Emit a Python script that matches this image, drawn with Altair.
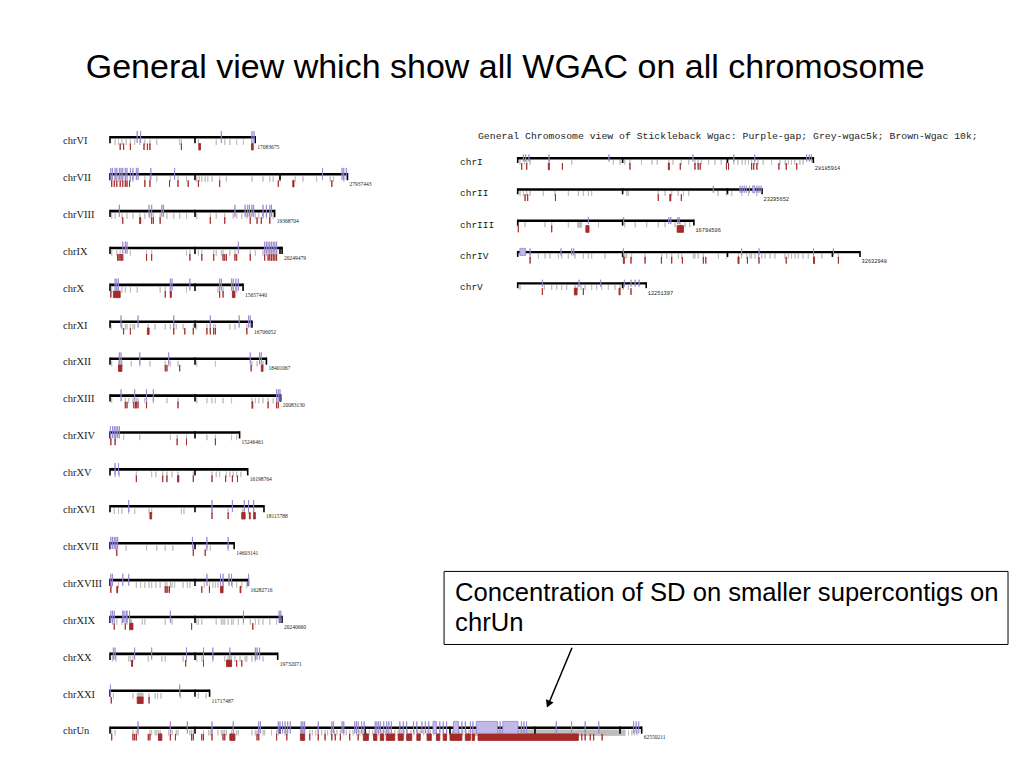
import altair as alt
import pandas as pd

# ---------------- data ----------------
LEFT_CHROMS = ["chrVI", "chrVII", "chrVIII", "chrIX", "chrX", "chrXI", "chrXII", "chrXIII",
               "chrXIV", "chrXV", "chrXVI", "chrXVII", "chrXVIII", "chrXIX", "chrXX", "chrXXI", "chrUn"]
LEFT_LENGTHS = [17083675, 27937443, 19368704, 20249479, 15657440, 16706052, 18401067, 20083130,
                15246461, 16198764, 18115788, 14603141, 16282716, 20240660, 19732071, 11717487, 62550211]
RIGHT_CHROMS = ["chrI", "chrII", "chrIII", "chrIV", "chrV"]
RIGHT_LENGTHS = [28185914, 23295652, 16798506, 32632948, 12251397]

# positions in Mb; a [start, end] pair is a block
GAPS = {
    "chrVI": [3.2, 3.6, 13.1, 16.7, 16.95],
    "chrVII": [0.1, 0.3, 0.6, 0.8, 1.1, 1.3, 1.5, 1.8, 2.0, 2.4, 2.7, 3.1, 3.3, 4.8, 7.6, 25.0, 27.3, 27.5, 27.8],
    "chrVIII": [1.1, 4.6, 4.9, 6.1, 6.3, 14.7, 15.9, 16.2, 16.4, 16.7, 16.9, 18.0, 18.4, 18.8, 19.0],
    "chrIX": [1.5, 1.8, 2.0, 15.1, 18.2, 18.4, 18.6, 18.8, 19.0, 19.2, 19.4, 19.6],
    "chrX": [0.6, 0.8, 1.0, 7.1, 7.3, 9.4, 12.9, 13.1, 14.3, 14.5, 14.8, 15.1],
    "chrXI": [1.3, 3.3, 7.5, 11.8, 15.2, 16.3, 16.5],
    "chrXII": [1.1, 1.3, 3.5, 6.9, 16.5, 17.6, 17.8],
    "chrXIII": [1.3, 2.9, 4.3, 5.1, 19.6, 19.8, 20.0],
    "chrXIV": [0.05, 0.3, 0.5, 0.7, 0.9, 1.1],
    "chrXV": [0.6, 1.0],
    "chrXVI": [2.2, 12.0, 14.4, 15.8, 16.3, 16.9],
    "chrXVII": [0.1, 0.3, 0.5, 0.7, 0.9, 9.7, 11.4, 13.9],
    "chrXVIII": [0.1, 0.3, 1.5, 2.2, 11.4, 13.0, 13.3, 14.0, 14.3, 16.3],
    "chrXIX": [0.1, 0.3, 0.5, 1.5, 1.65, 1.9, 2.0, 2.3, 7.1, 15.7, 19.9, 20.1],
    "chrXX": [0.4, 0.6, 2.9, 4.9, 9.0, 11.0, 12.1, 14.1, 17.1, 17.3, 17.6],
    "chrXXI": [0.05, 8.2],
    "chrUn": [3.3, 7.1, 9.1, 12.0, 14.5, 17.5, 17.7, 19.8, 20.0, 20.3, 20.6, 20.9, 21.2, 22.5, 22.7, 22.9,
              24.5, 26.1, 26.3, 27.3, 27.5, 28.8, 29.0, 29.2, 29.6, 29.9, 31.2, 31.4, 31.6, 31.8, 32.2,
              32.55, 32.8, 33.1, 34.1, 34.5, 34.9, 35.7, 36.1, 36.7, 37.1, 37.5, [38.0, 38.4], 38.8, 39.2,
              39.6, [40.4, 41.0], 41.4, 41.8, 42.4, 42.7, [43.1, 45.6], 45.9, [46.2, 48.0], 48.4, 48.7,
              49.0, 52.5, 54.3, 55.9, 57.5, 61.6, 61.9, 62.2],
    "chrI": [0.54, 0.76, 1.08, 2.99, 8.7, 16.7, 20.6, 22.6, 27.55, 27.8, 28.0],
    "chrII": [18.65, 21.2, 21.4, 21.6, 21.8, 22.1, [22.4, 22.6], 22.8, 23.0, 23.2],
    "chrIII": [6.74, 10.1, 14.4, 14.6, 15.25, 15.4],
    "chrIV": [[0.2, 0.76], 1.18, 4.13, 5.15, 5.34, 10.07, 21.35, 23.0, 28.2, 30.1],
    "chrV": [2.35, 5.85, 7.9, 10.17, 10.8, 11.2, 11.57],
}

WGAC5K = {
    "chrVI": [0.6, 1.0, 1.4, 1.9, 2.4, 2.9, 3.5, 4.1, 4.7, 5.5, 8.2, 8.4, 10.4, 12.5, 13.5, 14.1, 14.9, 15.7],
    "chrVII": [0.2, 0.6, 1.0, 1.4, 1.8, 2.4, 2.7, 4.1, 4.7, 5.5, 7.1, 8.0, 9.0, 10.2, 10.5, 10.8, 11.2, 11.5,
               12.0, 12.9, 13.7, 16.7, 18.0, 18.8, 19.2, 20.0, 21.8, 22.7, 24.3, 25.9, 26.3, 27.5],
    "chrVIII": [0.2, 0.6, 1.4, 2.0, 2.7, 3.5, 4.1, 4.7, 5.1, 5.9, 6.7, 7.5, 8.2, 9.0, 10.2, 11.8, 12.5, 13.5,
                14.5, 14.9, 15.5, 16.1, 16.5, 17.1, 17.5, 18.0, 18.4, 18.8, 19.2],
    "chrIX": [0.2, 0.8, 1.2, 2.4, 4.3, 4.9, 9.0, 9.4, 10.4, 10.8, 12.2, 12.5, 13.1, 13.3, 14.1, 14.7, 16.5,
              17.1, 18.0, 18.4, 18.8, 19.2, 19.6],
    "chrX": [0.2, 0.8, 1.4, 1.8, 2.4, 3.2, 5.9, 6.5, 7.1, 9.0, 12.7, 13.3, 14.5, 14.9],
    "chrXI": [0.1, 1.4, 1.8, 2.0, 2.4, 2.7, 2.9, 4.5, 5.3, 6.5, 7.1, 7.5, 7.8, 8.6, 9.8, 10.1, 10.2, 11.4,
              11.8, 12.2, 12.4, 14.1, 14.7, 16.1],
    "chrXII": [0.2, 1.0, 1.4, 2.5, 3.5, 4.7, 6.5, 6.9, 7.1, 8.0, 10.2, 12.4, 16.7, 17.3, 18.0],
    "chrXIII": [0.2, 1.8, 2.2, 2.7, 3.1, 3.3, 4.1, 5.1, 6.7, 8.0, 10.2, 11.4, 12.0, 12.4, 13.3, 14.3, 16.7,
                17.1, 17.5, 18.0, 18.6, 19.2, 19.6],
    "chrXIV": [0.1, 0.6, 1.6, 3.5, 7.1, 7.9, 9.0, 11.4, 12.4, 14.3, 14.9],
    "chrXV": [0.6, 1.1, 3.1, 4.9, 5.4, 6.2, 6.7, 7.3, 8.0, 9.8, 12.0, 12.5, 12.9, 13.7, 14.1, 14.5, 14.9, 15.4],
    "chrXVI": [0.5, 1.0, 1.4, 2.2, 2.9, 4.6, 4.9, 8.4, 8.7, 12.0, 13.9, 15.6, 16.3, 16.9],
    "chrXVII": [0.7, 1.9, 4.3, 5.5, 6.5, 7.4, 9.8, 11.4, 11.8, 13.9],
    "chrXVIII": [0.2, 1.0, 3.1, 3.6, 4.1, 4.6, 4.9, 5.4, 5.9, 6.5, 6.7, 7.1, 7.3, 7.6, 8.6, 9.1, 9.4, 11.1,
                 11.7, 12.1, 12.4, 12.7, 13.3, 14.4, 14.9, 15.5, 16.1],
    "chrXIX": [0.3, 0.8, 1.4, 2.0, 2.4, 2.5, 3.8, 4.1, 6.5, 7.3, 10.2, 10.4, 10.8, 12.5, 13.1, 13.3, 13.5,
               13.9, 14.3, 14.5, 15.1, 15.7, 16.5, 17.1, 17.5, 18.0, 18.8, 19.6],
    "chrXX": [0.3, 0.7, 2.2, 2.4, 2.7, 4.5, 6.1, 6.5, 8.6, 9.0, 10.2, 10.8, 11.0, 12.1, 13.5, 13.9, 14.3,
              14.7, 15.3, 15.9, 16.1, 16.7, 17.1, 18.0],
    "chrXXI": [0.4, 2.7, [3.2, 3.9], 4.6, 5.3, 5.6, 6.0, 8.3, 10.4, 11.3],
    "chrUn": [0.2, 0.6, 2.7, 3.1, 3.3, 4.7, 4.9, 5.3, 5.5, 5.7, 5.9, 6.9, 7.3, 7.8, 8.0, 9.4, 9.6, 9.8, 11.0,
              11.6, 11.8, 12.0, 12.7, 13.1, 13.3, 13.5, 13.7, 14.3, 14.9, 15.1, 16.7, 17.1, 17.3, 17.5, 18.0,
              18.2, 19.0, 19.6, 19.8, 20.6, 20.8, 22.4, 22.5, 22.7, 22.9, 23.5, 23.8, 24.2, 24.5, 24.9, 25.3,
              25.6, 26.0, 26.4, 26.7, 27.1, 27.5, 27.8, 28.2, 28.6, 29.0, 29.4, 29.7, 30.1, 30.5, 30.9, 31.2,
              31.6, 32.0, 32.4, 32.7, 33.1, 33.5, 33.9, 34.3, 34.6, 35.0, 35.4, 35.8, 36.2, 36.5, 36.9, 37.3,
              37.7, 38.1, 38.4, 38.8, 39.2, 39.6, 40.0, 40.3, 40.7, 41.1, 41.5, 41.9, 42.2, 42.6, [42.9, 60.6],
              61.0, 61.4, 61.7, 62.0],
    "chrI": [0.22, 0.64, 0.86, 1.18, 2.99, 5.15, 9.12, 9.76, 10.2, 10.7, 11.8, 12.8, 13.3, 14.4, 14.8, 15.6,
             16.3, 16.9, 17.2, 17.5, 18.2, 18.8, 19.4, 19.9, 20.6, 21.0, 21.4, 21.7, 22.0, 22.3, 22.6, 22.9,
             23.4, 24.2, 25.0, 25.5, 25.8, 26.1, 26.4, 26.9, 27.2],
    "chrII": [0.22, 0.54, 0.86, 1.18, 2.45, 3.56, 4.83, 5.78, 6.26, 6.74, 7.05, 10.4, 10.55, 13.4, 14.05,
              14.68, 15.3, 15.8, 16.3, 19.1, 19.9, 20.4, 21.35, 22.0, 22.8],
    "chrIII": [0.06, 0.7, 2.6, 3.24, 4.83, [5.7, 6.1], 7.7, 10.2, 11.2, 12.3, 13.4, 14.05, 15.0, 15.5, 15.95, 16.4],
    "chrIV": [1.18, 1.97, 2.6, 3.08, 3.88, 4.19, 4.83, 5.47, 6.26, 6.74, 7.05, 8.33, 10.07, 10.23, 10.39,
              10.86, 12.14, 13.73, 14.2, 14.68, 15.32, 15.63, 16.75, 16.9, 17.2, 17.7, 19.13, 19.92, 21.04,
              21.35, 21.83, 22.15, 22.3, 22.62, 22.94, 23.26, 23.58, 24.05, 24.53, 25.48, 25.8, 26.1, 26.44,
              26.75, 27.2, 27.7, 28.2, 29.0, 30.57],
    "chrV": [0.22, 2.54, 3.24, 3.72, 4.19, 4.67, 5.47, 5.72, 6.04, 6.42, 7.05, 7.53, 8.0, 8.64, 9.28, 9.76,
             10.07, 10.55],
}

WGAC10K = {
    "chrVI": [1.2, 1.6, 2.4, 4.0, 4.4, 4.7, 8.4, [10.45, 10.65], [16.65, 16.85]],
    "chrVII": [0.2, 0.5, 0.8, 1.2, 1.5, 1.8, 2.0, 2.3, 4.1, 4.7, 7.0, 8.0, 9.2, 10.4, 12.9, 19.8, [21.5, 21.65], 26.1],
    "chrVIII": [1.5, 3.5, 3.6, 4.9, 5.1, 5.9, 11.8, 13.5, 16.5, 17.3, 17.8, 18.8],
    "chrIX": [0.9, 1.05, 1.2, 1.35, 1.5, 4.3, 4.9, 9.4, 10.8, 12.2, 13.3, 13.5, 13.7, 14.7, 14.9, 16.5, 18.2,
              18.6, 18.8, 19.0, 19.2, 19.4, 19.6],
    "chrX": [0.1, [0.4, 1.2], 6.5, 7.1, 7.2, 12.9, 13.3, [14.4, 14.7]],
    "chrXI": [1.6, 2.4, [4.4, 4.6], 7.5, 8.8, 9.8, 11.4, 11.8, 12.2, 12.4, 16.1],
    "chrXII": [[1.0, 1.4], 6.5, 6.7, 8.2, 16.6, [17.8, 18.0]],
    "chrXIII": [1.8, 2.0, 2.8, 3.0, 3.1, 3.3, 4.3, 8.0, [16.7, 16.8], 18.6, 19.6, 19.8],
    "chrXIV": [0.1, 0.6, 7.9, 9.0, 12.4],
    "chrXV": [3.1, 6.2, 6.7, [7.95, 8.1], 9.8, 12.0, 13.6, 14.4, 15.0],
    "chrXVI": [[4.7, 4.9], 12.0, 13.9, [15.5, 15.9], [16.4, 16.5], [16.9, 17.1]],
    "chrXVII": [0.8, 9.8, 11.2],
    "chrXVIII": [0.1, [0.8, 0.9], 6.5, 6.6, 6.8, 7.0, 10.8, 11.7, [13.0, 13.3], [15.3, 15.4]],
    "chrXIX": [0.5, 1.8, [2.3, 2.7], 9.6, 16.8],
    "chrXX": [2.55, 2.65, 8.9, 11.0, [13.7, 14.3], 14.9, 15.5],
    "chrXXI": [0.15, [3.2, 3.9], 4.6],
    "chrUn": [0.2, 2.7, 2.9, 3.1, 4.5, 4.7, [5.7, 6.1], 7.1, 7.7, 9.6, 9.8, 10.8, 11.0, 12.0, 13.3, 13.5,
              [14.1, 14.7], 17.3, 17.5, 19.6, 20.8, [22.4, 22.9], 23.5, 24.5, 25.3, 26.1, 26.5, 27.1, 28.2,
              29.2, [29.8, 30.4], [31.0, 31.4], [31.8, 32.2], [32.5, 33.5], [33.9, 34.5], [34.9, 35.5],
              [36.1, 36.5], [37.3, 37.8], [38.4, 38.8], [39.2, 39.6], [40.0, 41.4], [41.8, 42.4],
              [42.6, 42.9], [43.3, 55.1], 55.5, 55.9, 56.5, 56.9, 57.9],
    "chrI": [0.38, 0.86, [2.92, 3.02], 4.26, 10.7, [14.36, 14.46], 15.5, 16.9, 17.2, 17.4, 19.9, 20.1, 22.3,
             22.5, 22.8, 24.9, 25.6, 26.6],
    "chrII": [0.7, 0.95, 3.6, 13.4, [14.5, 14.6], 15.6],
    "chrIII": [0.06, 3.24, [6.5, 6.8], [15.2, 15.8]],
    "chrIV": [1.18, [10.07, 10.17], 10.8, 12.14, 13.7, 14.68, 15.7, 17.7, 17.93, [21.0, 21.1], 21.9, 23.0,
              25.6, [28.2, 28.3], 30.57],
    "chrV": [2.35, [5.4, 5.66], 6.26, [9.66, 9.76], 10.8],
}

TITLE = "General view which show all WGAC on  all chromosome"
SUBTITLE = "General Chromosome view of Stickleback Wgac: Purple-gap; Grey-wgac5k; Brown-Wgac 10k;"
NOTE_LINES = ["Concentration of SD on smaller supercontigs on", "chrUn"]

# ---------------- layout / style ----------------
W, H = 1008, 752
PURPLE_FILL, PURPLE_LINE = "#c2b8ea", "#9585d0"
GREY = "#bdbdbd"
BROWN = "#a52a2a"

LEFT_STYLE = dict(bar=(0, 2.6), tick=7.3, gap=(-5, 7), grey=(3.5, 9), brown=(7.5, 14),
                  lab=5, lab_dx=-47, len=11, len_dx=2,
                  lab_font="Liberation Serif", lab_size=10.5, len_font="Liberation Serif", len_size=5.5)
RIGHT_STYLE = dict(bar=(0, 2.4), tick=6, gap=(-2.5, 4.5), grey=(2.7, 7.7), brown=(6, 12.7),
                   lab=5, lab_dx=-57.7, len=10.5, len_dx=1.5,
                   lab_font="Liberation Mono", lab_size=9.5, len_font="Liberation Mono", len_size=5.3)


def as_interval(item):
    if isinstance(item, (list, tuple)):
        return item[0], item[1]
    return item, item


def panel(chroms, lengths, origin_px, ppm, top_px, row_px, st):
    x0 = -(origin_px - 8) / ppm
    xs = alt.Scale(domain=[x0, x0 + W / ppm], nice=False, zero=False)
    y0 = -(top_px - 8) / row_px
    ys = alt.Scale(domain=[y0, y0 + H / row_px], nice=False, zero=False, reverse=True)

    def X(f):
        return alt.X(f, type="quantitative", scale=xs, axis=None)

    def Y(f):
        return alt.Y(f, type="quantitative", scale=ys, axis=None)

    def off(px):
        return f"datum.row + {px / row_px}"

    base = pd.DataFrame({
        "chrom": chroms,
        "row": list(range(len(chroms))),
        "start": [0.0] * len(chroms),
        "end": [l / 1e6 for l in lengths],
        "label": [str(l) for l in lengths],
    })

    tick_rows = []
    for i, l in enumerate(lengths):
        mb = l / 1e6
        pos = [0.0] + [float(m) for m in range(10, int(mb) + 1, 10) if m < mb] + [mb]
        for p in pos:
            tick_rows.append({"row": i, "pos": p})
    ticks = pd.DataFrame(tick_rows)

    def feats(table):
        rows = []
        for i, c in enumerate(chroms):
            for item in table.get(c, []):
                s, e = as_interval(item)
                rows.append({"chrom": c, "row": i, "start": s, "end": e})
        return pd.DataFrame(rows)

    def feat_layer(table, yr, fill, stroke, sw):
        return alt.Chart(feats(table)).transform_calculate(
            y1=off(yr[0]), y2=off(yr[1])
        ).mark_rect(fill=fill, stroke=stroke, strokeWidth=sw).encode(
            x=X("start"), x2=alt.X2("end"), y=Y("y1"), y2=alt.Y2("y2")
        )

    grey = feat_layer(WGAC5K, st["grey"], GREY, GREY, 0.9)
    brown = feat_layer(WGAC10K, st["brown"], BROWN, BROWN, 0.9)

    backbone = alt.Chart(base).transform_calculate(
        y1=off(st["bar"][0]), y2=off(st["bar"][1])
    ).mark_rect(color="black").encode(x=X("start"), x2=alt.X2("end"), y=Y("y1"), y2=alt.Y2("y2"))

    tick_layer = alt.Chart(ticks).transform_calculate(
        y1=off(0), y2=off(st["tick"])
    ).mark_rule(color="black", strokeWidth=1.6).encode(x=X("pos"), y=Y("y1"), y2=alt.Y2("y2"))

    gaps = feat_layer(GAPS, st["gap"], PURPLE_FILL, PURPLE_LINE, 0.8)

    labels = alt.Chart(base).transform_calculate(ylab=off(st["lab"])).mark_text(
        align="left", baseline="middle", dx=st["lab_dx"], font=st["lab_font"],
        fontSize=st["lab_size"], color="#222222"
    ).encode(x=X("start"), y=Y("ylab"), text="chrom:N")

    lenlabels = alt.Chart(base).transform_calculate(ylen=off(st["len"])).mark_text(
        align="left", baseline="middle", dx=st["len_dx"], font=st["len_font"],
        fontSize=st["len_size"], color="#222222"
    ).encode(x=X("end"), y=Y("ylen"), text="label:N")

    layers = [grey, brown, backbone, tick_layer, gaps, labels, lenlabels]
    return layers, X, Y


left_layers, XA, YA = panel(LEFT_CHROMS, LEFT_LENGTHS, 110, 8.5, 136, 36.9, LEFT_STYLE)
right_layers, XB, YB = panel(RIGHT_CHROMS, RIGHT_LENGTHS, 517.7, 10.49, 157, 31.3, RIGHT_STYLE)

# ---- annotations (in the data units of each panel: Mb across, chromosome rows down) ----
title_df = pd.DataFrame({"text": [TITLE], "x": [46.5], "y": [-1.84]})
title = alt.Chart(title_df).mark_text(
    font="Liberation Sans", fontSize=34, align="center", baseline="middle", color="black"
).encode(x=XA("x"), y=YA("y"), text="text:N")

box_df = pd.DataFrame({"x": [39.3], "x2": [105.65], "y": [11.8], "y2": [13.78]})
box = alt.Chart(box_df).mark_rect(fill="white", stroke="black", strokeWidth=1).encode(
    x=XA("x"), x2=alt.X2("x2"), y=YA("y"), y2=alt.Y2("y2"))

note_df = pd.DataFrame({"text": NOTE_LINES, "x": [40.6, 40.6], "y": [12.38, 13.19]})
note = alt.Chart(note_df).mark_text(
    font="Liberation Sans", fontSize=25.6, align="left", baseline="middle", color="black"
).encode(x=XA("x"), y=YA("y"), text="text:N")

arrow_df = pd.DataFrame({"x": [54.35], "y": [13.87], "x2": [51.7], "y2": [15.33]})
arrow = alt.Chart(arrow_df).mark_rule(color="black", strokeWidth=1.5).encode(
    x=XA("x"), y=YA("y"), x2=alt.X2("x2"), y2=alt.Y2("y2"))
head_df = pd.DataFrame({"x": [51.57], "y": [15.4]})
head = alt.Chart(head_df).mark_point(
    shape="triangle-down", filled=True, color="black", size=70, angle=22.8, opacity=1
).encode(x=XA("x"), y=YA("y"))

sub_df = pd.DataFrame({"text": [SUBTITLE], "x": [-3.785], "y": [-0.671]})
subtitle = alt.Chart(sub_df).mark_text(
    font="Liberation Mono", fontSize=9.8, align="left", baseline="middle", color="#222222"
).encode(x=XB("x"), y=YB("y"), text="text:N")

panel_a = alt.layer(*left_layers, title, box, note, arrow, head)
panel_b = alt.layer(*right_layers, subtitle)

chart = alt.layer(panel_a, panel_b).resolve_scale(
    x="independent", y="independent"
).properties(
    width=W, height=H, padding=0, autosize=alt.AutoSizeParams(type="none"), background="white"
).configure_view(stroke=None)

chart.save("out.html", embed_options={"renderer": "svg", "actions": False})
